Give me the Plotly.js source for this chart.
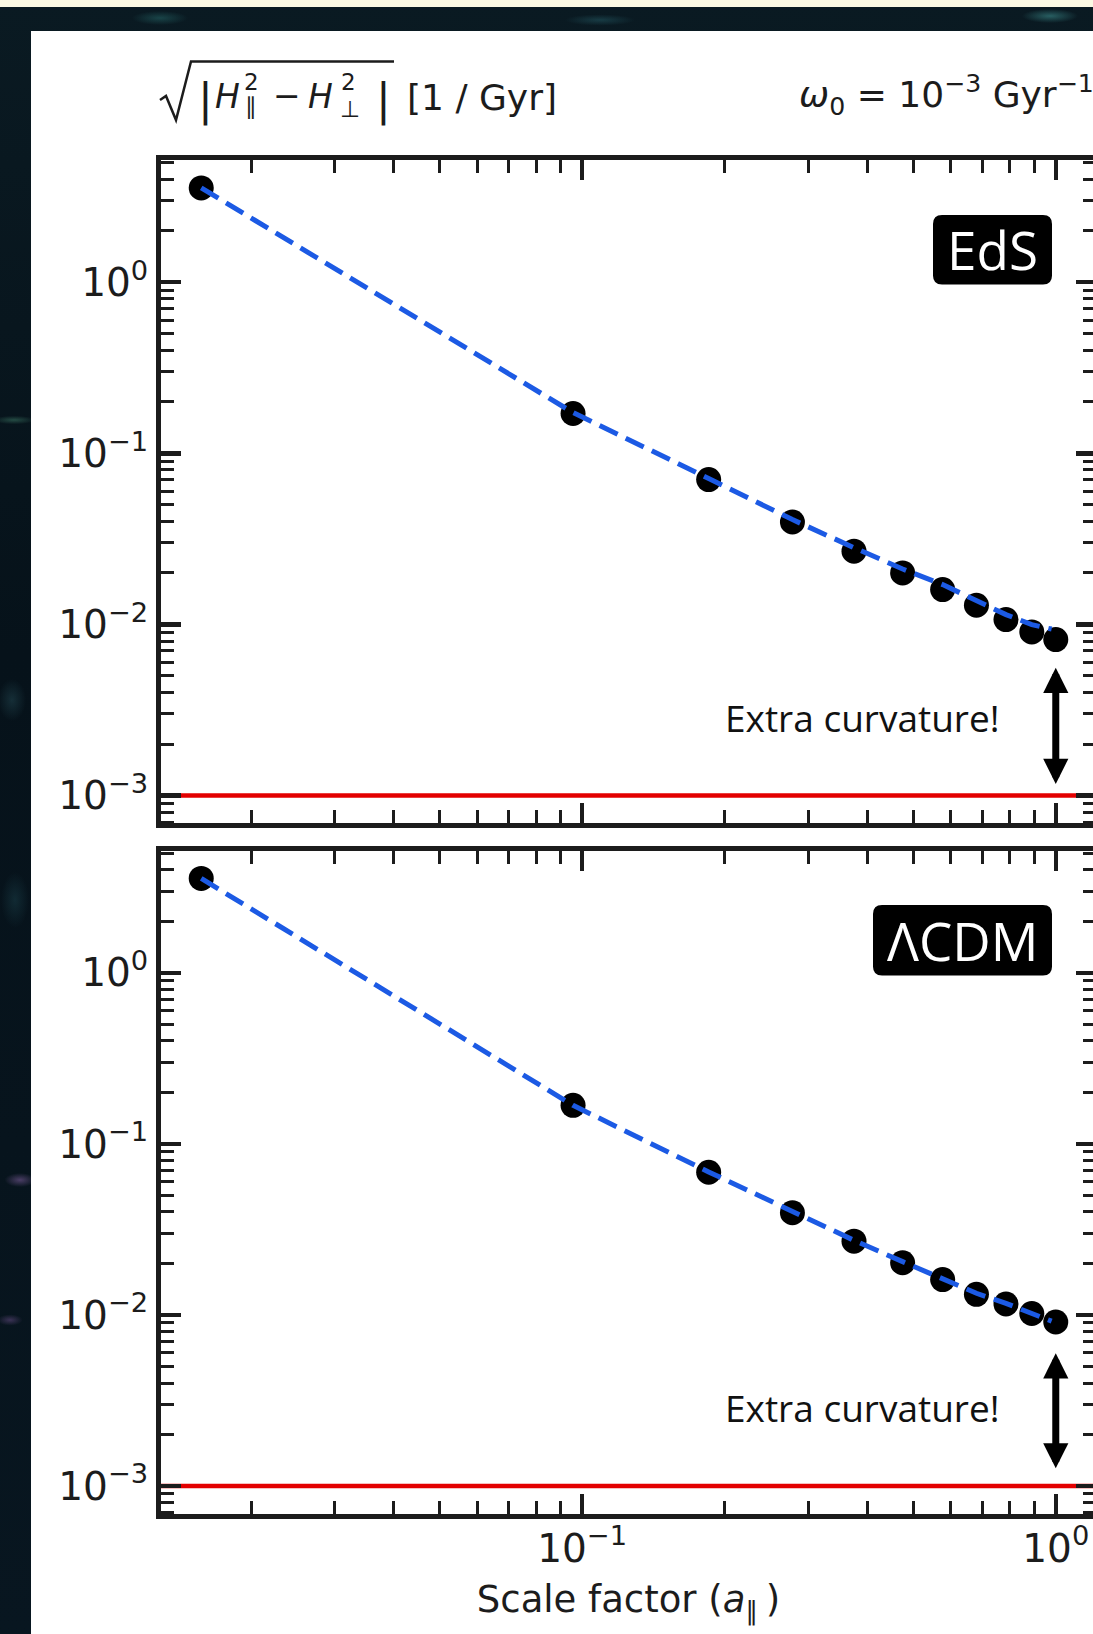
<!DOCTYPE html>
<html>
<head>
<meta charset="utf-8">
<script src="https://cdn.plot.ly/plotly-3.0.1.min.js"></script>
<style>
html,body{margin:0;padding:0;width:1093px;height:1634px;overflow:hidden;background:#06111a;}
#bg{position:absolute;left:0;top:0;width:1093px;height:1634px;
background:
 radial-gradient(ellipse 30px 6px at 14px 420px, rgba(60,120,100,0.55), transparent 70%),
 radial-gradient(ellipse 22px 10px at 20px 1180px, rgba(120,90,150,0.6), transparent 70%),
 radial-gradient(ellipse 18px 8px at 10px 1320px, rgba(110,80,140,0.5), transparent 70%),
 radial-gradient(ellipse 40px 10px at 160px 18px, rgba(40,110,110,0.5), transparent 70%),
 radial-gradient(ellipse 50px 8px at 600px 20px, rgba(40,100,110,0.45), transparent 70%),
 radial-gradient(ellipse 40px 10px at 1050px 16px, rgba(60,140,140,0.6), transparent 70%),
 radial-gradient(ellipse 20px 30px at 12px 700px, rgba(40,80,90,0.45), transparent 70%),
 radial-gradient(ellipse 20px 40px at 15px 900px, rgba(30,70,80,0.45), transparent 70%),
 linear-gradient(180deg,#0a1a22 0%,#06121a 40%,#081620 100%);}
#topstrip{position:absolute;left:0;top:0;width:1093px;height:7px;background:#fbf9e4;}
#chart{position:absolute;left:31px;top:31px;width:1100px;height:1603px;}
</style>
</head>
<body>
<div id="bg"></div>
<div id="topstrip"></div>
<div id="chart"></div>
<script>
// ---------------- data ----------------
const scaleFactor = [0.0157, 0.0957, 0.185, 0.278, 0.375, 0.475, 0.577, 0.68, 0.785, 0.89, 1.0];
const hEdS  = [3.56, 0.171, 0.0703, 0.0397, 0.0268, 0.0200, 0.0160, 0.01295, 0.01068, 0.00905, 0.00816];
const hLCDM = [3.56, 0.168, 0.0683, 0.0396, 0.0270, 0.0202, 0.0161, 0.0132, 0.0116, 0.0102, 0.0091];
const modelScale = [0.0157, 0.0957, 0.185, 0.278, 0.375, 0.475, 0.577, 0.68, 0.785, 0.89, 0.98];
const modelEdS  = [3.56, 0.173, 0.0713, 0.0410, 0.0281, 0.0211, 0.0171, 0.01385, 0.01142, 0.00998, 0.0094];
const modelLCDM = [3.56, 0.168, 0.0686, 0.0400, 0.0273, 0.0205, 0.0164, 0.0134, 0.0117, 0.0103, 0.0092];
const omega0 = 1e-3;
const arrowEdS  = [0.0057, 0.00117];
const arrowLCDM = [0.0061, 0.00127];
const yTickVals = [1, 0.1, 0.01, 0.001];
const yTickText = ['10<sup>0</sup>', '10<sup>−1</sup>', '10<sup>−2</sup>', '10<sup>−3</sup>'];
const xTickVals = [0.1, 1];
const xTickText = ['10<sup>−1</sup>', '10<sup>0</sup>'];
const panelLabels = ['EdS', 'ΛCDM'];

// ---------------- styling ----------------
const INK = '#1c1c1c';
const BLUE = '#1c5ae4';
const RED = '#e30000';
const FONT = '"Open Sans", "DejaVu Sans", sans-serif';
const MFONT = '"DejaVu Sans", sans-serif';
const LW = 5;

const W = 1100, H = 1603;
const M = {l: 130, r: 35, t: 129, b: 120};
const PW = W - M.l - M.r, PH = H - M.t - M.b;
const DX = 31, DY = 31;
const px = xp => (xp - DX - M.l) / PW;
const py = yp => 1 - (yp - DY - M.t) / PH;

// matplotlib-like 5% log margins, measured between spine centres
function logRange(vals, lenPx) {
  const l = vals.map(v => Math.log10(v));
  const lo = Math.min(...l), hi = Math.max(...l), pad = 0.05 * (hi - lo);
  const r0 = lo - pad, r1 = hi + pad, span = r1 - r0;
  const f = (LW / 2) / (lenPx + LW);
  return [r0 + span * f, r1 - span * f];
}
const xRange = logRange(scaleFactor, PW);
const yRange1 = logRange(hEdS.concat([omega0]), PH * 0.49);
const yRange2 = logRange(hLCDM.concat([omega0]), PH * 0.49);

function axisBase() {
  return {
    type: 'log', showline: true, linewidth: LW, linecolor: INK, mirror: 'allticks',
    ticks: 'inside', ticklen: 20, tickwidth: 4.5, tickcolor: INK,
    showgrid: false, zeroline: false,
    minor: {ticks: 'inside', ticklen: 13, tickwidth: 3, tickcolor: INK, dtick: 'D1', showgrid: false},
    tickfont: {family: MFONT, size: 39, color: INK}
  };
}

const traces = [
  {x: scaleFactor, y: hEdS, xaxis: 'x', yaxis: 'y', mode: 'markers', type: 'scatter',
   marker: {size: 25, color: '#000000'}, showlegend: false, hoverinfo: 'skip'},
  {x: modelScale, y: modelEdS, xaxis: 'x', yaxis: 'y', mode: 'lines', type: 'scatter',
   line: {color: BLUE, width: 5, dash: '20px,9px'}, showlegend: false, hoverinfo: 'skip'},
  {x: scaleFactor, y: hLCDM, xaxis: 'x2', yaxis: 'y2', mode: 'markers', type: 'scatter',
   marker: {size: 25, color: '#000000'}, showlegend: false, hoverinfo: 'skip'},
  {x: modelScale, y: modelLCDM, xaxis: 'x2', yaxis: 'y2', mode: 'lines', type: 'scatter',
   line: {color: BLUE, width: 5, dash: '20px,9px'}, showlegend: false, hoverinfo: 'skip'}
];

const xa1 = Object.assign(axisBase(), {domain: [0, 1], anchor: 'y', range: xRange,
  tickmode: 'array', tickvals: xTickVals, ticktext: xTickText, showticklabels: false});
const xa2 = Object.assign(axisBase(), {domain: [0, 1], anchor: 'y2', range: xRange,
  tickmode: 'array', tickvals: xTickVals, ticktext: xTickText, showticklabels: true,
  ticklabelstandoff: -4,
  title: {text: 'Scale factor (<i>a</i><sub>∥</sub>\u2009)', font: {family: MFONT, size: 37, color: INK}, standoff: 18}});
const ya1 = Object.assign(axisBase(), {domain: [0.51, 1], anchor: 'x', range: yRange1,
  tickmode: 'array', tickvals: yTickVals, ticktext: yTickText});
const ya2 = Object.assign(axisBase(), {domain: [0, 0.49], anchor: 'x2', range: yRange2,
  tickmode: 'array', tickvals: yTickVals, ticktext: yTickText});

function roundRect(x0, y0, x1, y1, r) {
  const P = (x, y) => px(x).toFixed(5) + ',' + py(y).toFixed(5);
  return 'M' + P(x0 + r, y0) + ' L' + P(x1 - r, y0) + ' Q' + P(x1, y0) + ' ' + P(x1, y0 + r) +
    ' L' + P(x1, y1 - r) + ' Q' + P(x1, y1) + ' ' + P(x1 - r, y1) +
    ' L' + P(x0 + r, y1) + ' Q' + P(x0, y1) + ' ' + P(x0, y1 - r) +
    ' L' + P(x0, y0 + r) + ' Q' + P(x0, y0) + ' ' + P(x0 + r, y0) + ' Z';
}
function polyPath(pts) {
  return pts.map((p, i) => (i ? 'L' : 'M') + px(p[0]).toFixed(5) + ',' + py(p[1]).toFixed(5)).join(' ');
}

const shapes = [
  {type: 'line', xref: 'x domain', yref: 'y', x0: 0, x1: 1, y0: omega0, y1: omega0,
   line: {color: RED, width: 4.5}, layer: 'below'},
  {type: 'line', xref: 'x2 domain', yref: 'y2', x0: 0, x1: 1, y0: omega0, y1: omega0,
   line: {color: RED, width: 4.5}, layer: 'below'},
  {type: 'path', xref: 'paper', yref: 'paper', path: roundRect(933, 215, 1052, 284.5, 9),
   fillcolor: '#000000', line: {width: 0}},
  {type: 'path', xref: 'paper', yref: 'paper', path: roundRect(873, 905, 1052, 975.5, 9),
   fillcolor: '#000000', line: {width: 0}},
  // radical sign and its overline for the quantity written above the panels
  {type: 'path', xref: 'paper', yref: 'paper',
   path: polyPath([[160, 100], [166, 96], [176, 120], [191, 61.5], [394, 61.5]]),
   line: {color: INK, width: 2.5}}
];

function txt(text, xp, yp, size, extra) {
  return Object.assign({xref: 'paper', yref: 'paper', x: px(xp), y: py(yp), text: text,
    showarrow: false, xanchor: 'left', yanchor: 'middle',
    font: {family: MFONT, size: size, color: INK}}, extra || {});
}
function arrow(xa, ya, pair) {
  return {xref: xa, yref: ya, axref: xa, ayref: ya, x: 0, y: Math.log10(pair[1]),
    ax: 0, ay: Math.log10(pair[0]), text: '', showarrow: true,
    arrowhead: 2, startarrowhead: 2, arrowside: 'end+start', arrowsize: 0.72, startarrowsize: 0.72,
    arrowwidth: 7, arrowcolor: '#000000', standoff: 0, startstandoff: 0};
}

const annotations = [
  txt(panelLabels[0], 992.5, 249.5, 53, {xanchor: 'center', font: {family: FONT, size: 53, color: '#ffffff'}}),
  txt(panelLabels[1], 962.5, 940, 53, {xanchor: 'center', font: {family: FONT, size: 53, color: '#ffffff'}}),
  txt('Extra curvature!', 1002, 717, 37, {xanchor: 'right', font: {family: FONT, size: 37, color: '#111111'}}),
  txt('Extra curvature!', 1002, 1407, 37, {xanchor: 'right', font: {family: FONT, size: 37, color: '#111111'}}),
  arrow('x', 'y', arrowEdS),
  arrow('x2', 'y2', arrowLCDM),
  // y-quantity written above the top panel
  txt('|', 205, 100, 44, {xanchor: 'center'}),
  txt('<i>H</i>', 213, 96, 33),
  txt('2', 251, 82, 23, {xanchor: 'center'}),
  txt('∥', 251, 106, 23, {xanchor: 'center'}),
  txt('−', 287, 95, 33, {xanchor: 'center'}),
  txt('<i>H</i>', 306, 96, 33),
  txt('2', 348, 82, 23, {xanchor: 'center'}),
  txt('⊥', 350, 109, 23, {xanchor: 'center'}),
  txt('|', 383, 100, 44, {xanchor: 'center'}),
  txt('[1 / Gyr]', 405, 98, 36),
  txt('<i>ω</i><sub>0</sub> = 10<sup>−3</sup> Gyr<sup>−1</sup>', 797, 95, 36)
];

const layout = {
  width: W, height: H, margin: M,
  paper_bgcolor: '#ffffff', plot_bgcolor: '#ffffff',
  font: {family: MFONT, size: 36, color: INK},
  showlegend: false,
  xaxis: xa1, yaxis: ya1, xaxis2: xa2, yaxis2: ya2,
  shapes: shapes, annotations: annotations
};

Plotly.newPlot('chart', traces, layout, {staticPlot: true, displayModeBar: false});
</script>
</body>
</html>
